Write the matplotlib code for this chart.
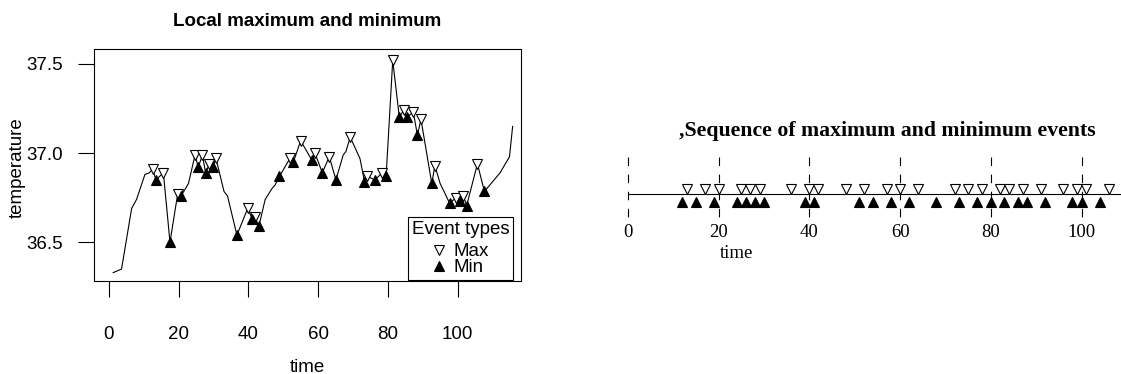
import matplotlib
matplotlib.use("Agg")
import matplotlib.pyplot as plt
from matplotlib.lines import Line2D
import numpy as np

# temperature series
time = [1.2, 3.6, 6.5, 7.9, 10.3, 11.6, 12.5, 13.5, 15.6, 17.5, 19.7, 20.7,
        22.8, 24.7, 25.6, 26.8, 27.7, 28.8, 29.7, 30.7, 33.0, 34.0, 36.7,
        39.8, 41.1, 41.9, 43.0, 44.8, 46.7, 47.6, 48.9, 51.9, 52.9, 55.0,
        58.2, 59.1, 61.2, 63.2, 65.1, 67.2, 68.0, 69.2, 72.0, 73.3, 74.1,
        76.3, 78.4, 79.5, 81.4, 83.3, 84.5, 85.4, 87.3, 88.5, 89.5, 92.6,
        93.5, 95.0, 97.7, 99.6, 100.7, 101.7, 102.6, 105.7, 107.7, 112.2,
        114.9, 115.8]
temperature = [36.33, 36.35, 36.69, 36.74, 36.88, 36.89, 36.91, 36.85, 36.89,
               36.50, 36.77, 36.76, 36.83, 36.99, 36.92, 36.99, 36.89, 36.94,
               36.92, 36.97, 36.785, 36.76, 36.54, 36.69, 36.63, 36.64, 36.59,
               36.74, 36.80, 36.82, 36.87, 36.97, 36.95, 37.07, 36.96, 37.00,
               36.89, 36.98, 36.85, 36.99, 37.01, 37.09, 36.97, 36.84, 36.87,
               36.85, 36.89, 36.87, 37.52, 37.20, 37.24, 37.20, 37.23, 37.10,
               37.19, 36.83, 36.93, 36.83, 36.72, 36.75, 36.73, 36.76, 36.705,
               36.94, 36.785, 36.89, 36.98, 37.15]

max_time = [12.5, 15.6, 19.7, 24.7, 26.8, 28.8, 30.7, 39.8, 41.9, 51.9, 55.0,
            59.1, 63.2, 69.2, 74.1, 78.4, 81.4, 84.5, 87.3, 89.5, 93.5, 99.6,
            101.7, 105.7]
min_time = [13.5, 17.5, 20.7, 25.6, 27.7, 29.7, 36.7, 41.1, 43.0, 48.9, 52.9,
            58.2, 61.2, 65.1, 73.3, 76.3, 79.5, 83.3, 85.4, 88.5, 92.6, 97.7,
            100.7, 102.6, 107.7]

# event sequence
seq_max = [13, 17, 20, 25, 27, 29, 36, 40, 42, 48, 52, 57, 60, 64, 72, 75, 78,
           82, 84, 87, 91, 96, 99, 101, 106]
seq_min = [12, 15, 19, 24, 26, 28, 30, 39, 41, 51, 54, 58, 62, 68, 73, 77, 80,
           83, 86, 88, 92, 98, 100, 104]

W, H = 1121, 374
fig = plt.figure(figsize=(W / 100, H / 100), dpi=100)
sans = "Liberation Sans"
serif = "Liberation Serif"
fs = 13.5


def box(x0, y0, x1, y1):
    return [x0 / W, 1 - y1 / H, (x1 - x0) / W, (y1 - y0) / H]


# ---- left panel ----
ax = fig.add_axes(box(94, 49, 521, 281))
t = np.array(time)
v = np.array(temperature)
ax.plot(t, v, color="black", lw=0.8)
ax.plot(max_time, np.interp(max_time, t, v), ls="none", marker="v", ms=7,
        mfc="white", mec="black", mew=0.8)
ax.plot(min_time, np.interp(min_time, t, v), ls="none", marker="^", ms=7,
        mfc="black", mec="black", mew=0.8)
ax.set_xlim(-4.3, 118.2)
ax.set_ylim(36.283, 37.584)
ax.set_xticks([0, 20, 40, 60, 80, 100])
ax.set_yticks([36.5, 37.0, 37.5])
ax.set_yticklabels(["36.5", "37.0", "37.5"])
ax.tick_params(length=11.5, width=0.8, labelsize=fs)
ax.tick_params(axis="x", pad=21)
ax.tick_params(axis="y", pad=11)
for lab in ax.get_xticklabels() + ax.get_yticklabels():
    lab.set_family(sans)
for s in ax.spines.values():
    s.set_linewidth(0.8)
fig.text(307 / W, 1 - 367 / H, "time", ha="center", va="center",
         family=sans, fontsize=fs)
fig.text(17 / W, 1 - 168 / H, "temperature", ha="center", va="center",
         rotation=90, family=sans, fontsize=fs)
fig.text(307 / W, 1 - 22 / H, "Local maximum and minimum", ha="center",
         va="center", family=sans, fontsize=fs, fontweight="bold")

handles = [Line2D([], [], ls="none", marker="v", ms=7, mfc="white",
                  mec="black", mew=0.8),
           Line2D([], [], ls="none", marker="^", ms=7, mfc="black",
                  mec="black", mew=0.8)]
leg = ax.legend(handles, ["Max", "Min"], title="Event types", loc="lower right",
                bbox_to_anchor=(0.981, 0.004), borderaxespad=0,
                fancybox=False, framealpha=1, edgecolor="black",
                prop={"family": sans, "size": fs}, handlelength=0.8,
                handletextpad=0.4, labelspacing=-0.05, borderpad=0.2)
leg.get_title().set_family(sans)
leg.get_title().set_fontsize(fs)
leg.get_frame().set_linewidth(0.8)
leg._legend_box.sep = 3.7  # extra gap under the legend title

# ---- right panel ----
ax2 = fig.add_axes(box(600, 157, 1121, 218))
ax2.set_xlim(-6.17, 108.7)
ax2.set_ylim(-24, 37)
ax2.plot([0, 110], [0, 0], color="black", lw=0.8)
for x in [0, 20, 40, 60, 80, 100]:
    ax2.plot([x, x], [37, -24], color="black", lw=0.8, ls=(0, (7.7, 7.7)))
ax2.plot(seq_max, [5] * len(seq_max), ls="none", marker="v", ms=7,
         mfc="white", mec="black", mew=0.8)
ax2.plot(seq_min, [-8] * len(seq_min), ls="none", marker="^", ms=7,
         mfc="black", mec="black", mew=0.8)
for s in ax2.spines.values():
    s.set_visible(False)
ax2.set_yticks([])
ax2.set_xticks([0, 20, 40, 60, 80, 100])
ax2.tick_params(axis="x", length=0, pad=4, labelsize=fs)
for lab in ax2.get_xticklabels():
    lab.set_family(serif)
fig.text(737 / W, 1 - 254 / H, "time", ha="center", va="center",
         family=serif, fontsize=fs)
fig.text(887 / W, 1 - 131 / H, ",Sequence of maximum and minimum events",
         ha="center", va="center", family=serif, fontsize=15.7,
         fontweight="bold")

fig.savefig("out.png", dpi=100)
